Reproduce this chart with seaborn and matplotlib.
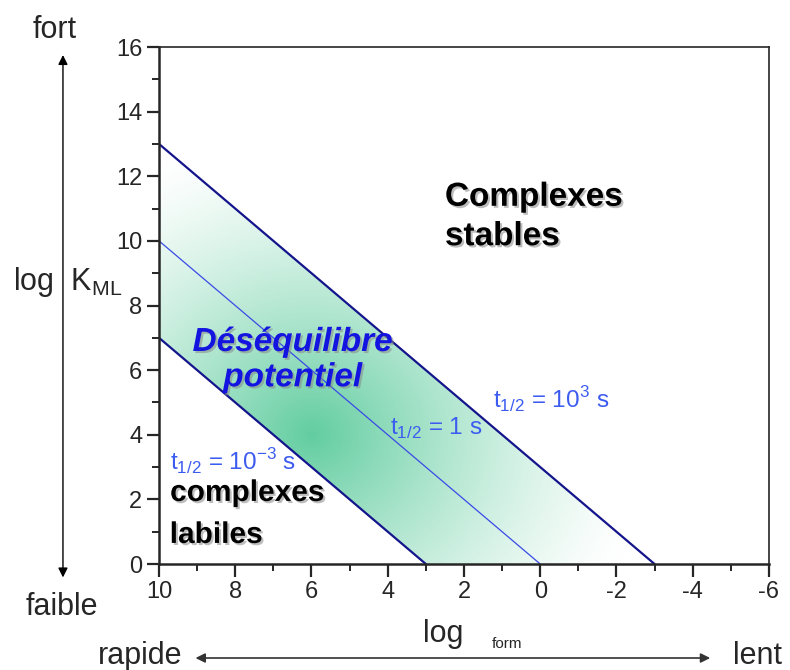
import numpy as np
import pandas as pd
import matplotlib
matplotlib.use("Agg")
import matplotlib.pyplot as plt
import matplotlib.patheffects as pe
from matplotlib.patches import Polygon
from matplotlib.ticker import MultipleLocator
import seaborn as sns

# half-life lines: log K_ML versus log k_form (end points)
line_labels = ["10^-3", "1", "10^3"]
line_x = [[10, 3], [10, 0], [10, -3]]
line_y = [[7, 0], [10, 0], [13, 0]]

# shaded band of "déséquilibre potentiel" (between the 10^-3 s and 10^3 s lines)
band_x = [10, 10, 3, -3]
band_y = [13, 7, 0, 0]

x_ticks = [10, 8, 6, 4, 2, 0, -2, -4, -6]
y_ticks = [0, 2, 4, 6, 8, 10, 12, 14, 16]

sns.set_style("ticks")
plt.rcParams['font.family'] = ['Liberation Sans', 'DejaVu Sans']
plt.rcParams['mathtext.fontset'] = 'custom'
plt.rcParams['mathtext.rm'] = 'Liberation Sans'

fig = plt.figure(figsize=(7.9, 6.7), dpi=100)
ax = fig.add_axes([0.2013, 0.1582, 0.772, 0.7716])

# Green gradient inside the band, strongest near log k = 6, log K = 4
gx, gy = np.meshgrid(np.linspace(10, -6, 400), np.linspace(16, 0, 400))
d = np.sqrt((38.1 * (gx - 6)) ** 2 + (36 * (gy - 4)) ** 2)
t = np.clip(1 - d / 340, 0, 1) ** 1.35
green = np.array([98, 205, 160]) / 255
img = np.ones(gx.shape + (3,)) * (1 - t[..., None]) + green * t[..., None]
im = ax.imshow(img, extent=[10, -6, 0, 16], aspect='auto', zorder=0)
band = Polygon(list(zip(band_x, band_y)), closed=True, transform=ax.transData,
               facecolor='none', edgecolor='none')
ax.add_patch(band)
im.set_clip_path(band)

# lines
styles = {"10^-3": ('#14148c', 1.6), "1": ('#3a4ae6', 0.9), "10^3": ('#14148c', 1.6)}
for lab, xs, ys in zip(line_labels, line_x, line_y):
    df = pd.DataFrame({"x": xs, "y": ys})
    c, lw = styles[lab]
    sns.lineplot(data=df, x="x", y="y", ax=ax, color=c, linewidth=lw, sort=False, zorder=2)

ax.set_xlim(10, -6)
ax.set_ylim(0, 16)
ax.set_xticks(x_ticks)
ax.set_yticks(y_ticks)
ax.set_xticklabels([str(v) for v in x_ticks])
ax.set_yticklabels([str(v) for v in y_ticks])
ax.xaxis.set_minor_locator(MultipleLocator(1))
ax.yaxis.set_minor_locator(MultipleLocator(1))
ax.tick_params(which='major', direction='out', length=9, width=1.6, labelsize=17, pad=3)
ax.tick_params(which='minor', direction='out', length=5, width=1.4)
ax.tick_params(top=False, right=False)
ax.set_xlabel("")
ax.set_ylabel("")
for s in ['left', 'bottom']:
    ax.spines[s].set_linewidth(1.8)
for s in ['top', 'right']:
    ax.spines[s].set_linewidth(1.2)
    ax.spines[s].set_visible(True)

shadow = [pe.SimplePatchShadow(offset=(1.5, -1.5), shadow_rgbFace='#888888', alpha=0.55), pe.Normal()]

ax.text(2.5, 10.74, "Complexes\nstables", fontsize=24, fontweight='bold', color='black',
        ha='left', va='center', linespacing=1.35, path_effects=shadow, zorder=3)
ax.text(6.49, 6.31, "Déséquilibre\npotentiel", fontsize=24, fontweight='bold', style='italic',
        color='#1414e0', ha='center', va='center', linespacing=1.18, path_effects=shadow, zorder=3)
ax.text(9.71, 2.2, "complexes", fontsize=21.5, fontweight='bold', color='black',
        ha='left', va='center', path_effects=shadow, zorder=3)
ax.text(9.72, 0.9, "labiles", fontsize=21.5, fontweight='bold', color='black',
        ha='left', va='center', path_effects=shadow, zorder=3)

tcol = '#3c5cf0'
ax.text(1.24, 5.08, r"t$_{\mathregular{1/2}}$ = 10$^{\mathregular{3}}$ s", fontsize=17.5,
        color=tcol, ha='left', va='center', zorder=3)
ax.text(3.94, 4.21, r"t$_{\mathregular{1/2}}$ = 1 s", fontsize=17.5,
        color=tcol, ha='left', va='center', zorder=3)
ax.text(9.71, 3.16, r"t$_{\mathregular{1/2}}$ = 10$^{\mathregular{-3}}$ s", fontsize=17.5,
        color=tcol, ha='left', va='center', zorder=3)

# outer annotations
fig.text(0.0696, 0.955, "fort", fontsize=22, ha='center', va='center')
fig.text(0.0785, 0.094, "faible", fontsize=22, ha='center', va='center')
fig.text(0.0165, 0.579, r"log  K$_{\mathregular{ML}}$", fontsize=22, ha='left', va='center')
fig.text(0.5354, 0.0418, "log", fontsize=22, ha='left', va='baseline')
fig.text(0.6228, 0.0328, "form", fontsize=11, ha='left', va='baseline')
fig.text(0.124, 0.021, "rapide", fontsize=22, ha='left', va='center')
fig.text(0.928, 0.021, "lent", fontsize=22, ha='left', va='center')

fig.add_artist(matplotlib.patches.FancyArrowPatch(
    (0.0797, 0.134), (0.0797, 0.922), transform=fig.transFigure,
    arrowstyle='<|-|>', mutation_scale=14, color='black', lw=1.0))
fig.add_artist(matplotlib.patches.FancyArrowPatch(
    (0.244, 0.0179), (0.9025, 0.0179), transform=fig.transFigure,
    arrowstyle='<|-|>', mutation_scale=14, color='#333333', lw=1.2))

fig.savefig("out.png", dpi=100)
